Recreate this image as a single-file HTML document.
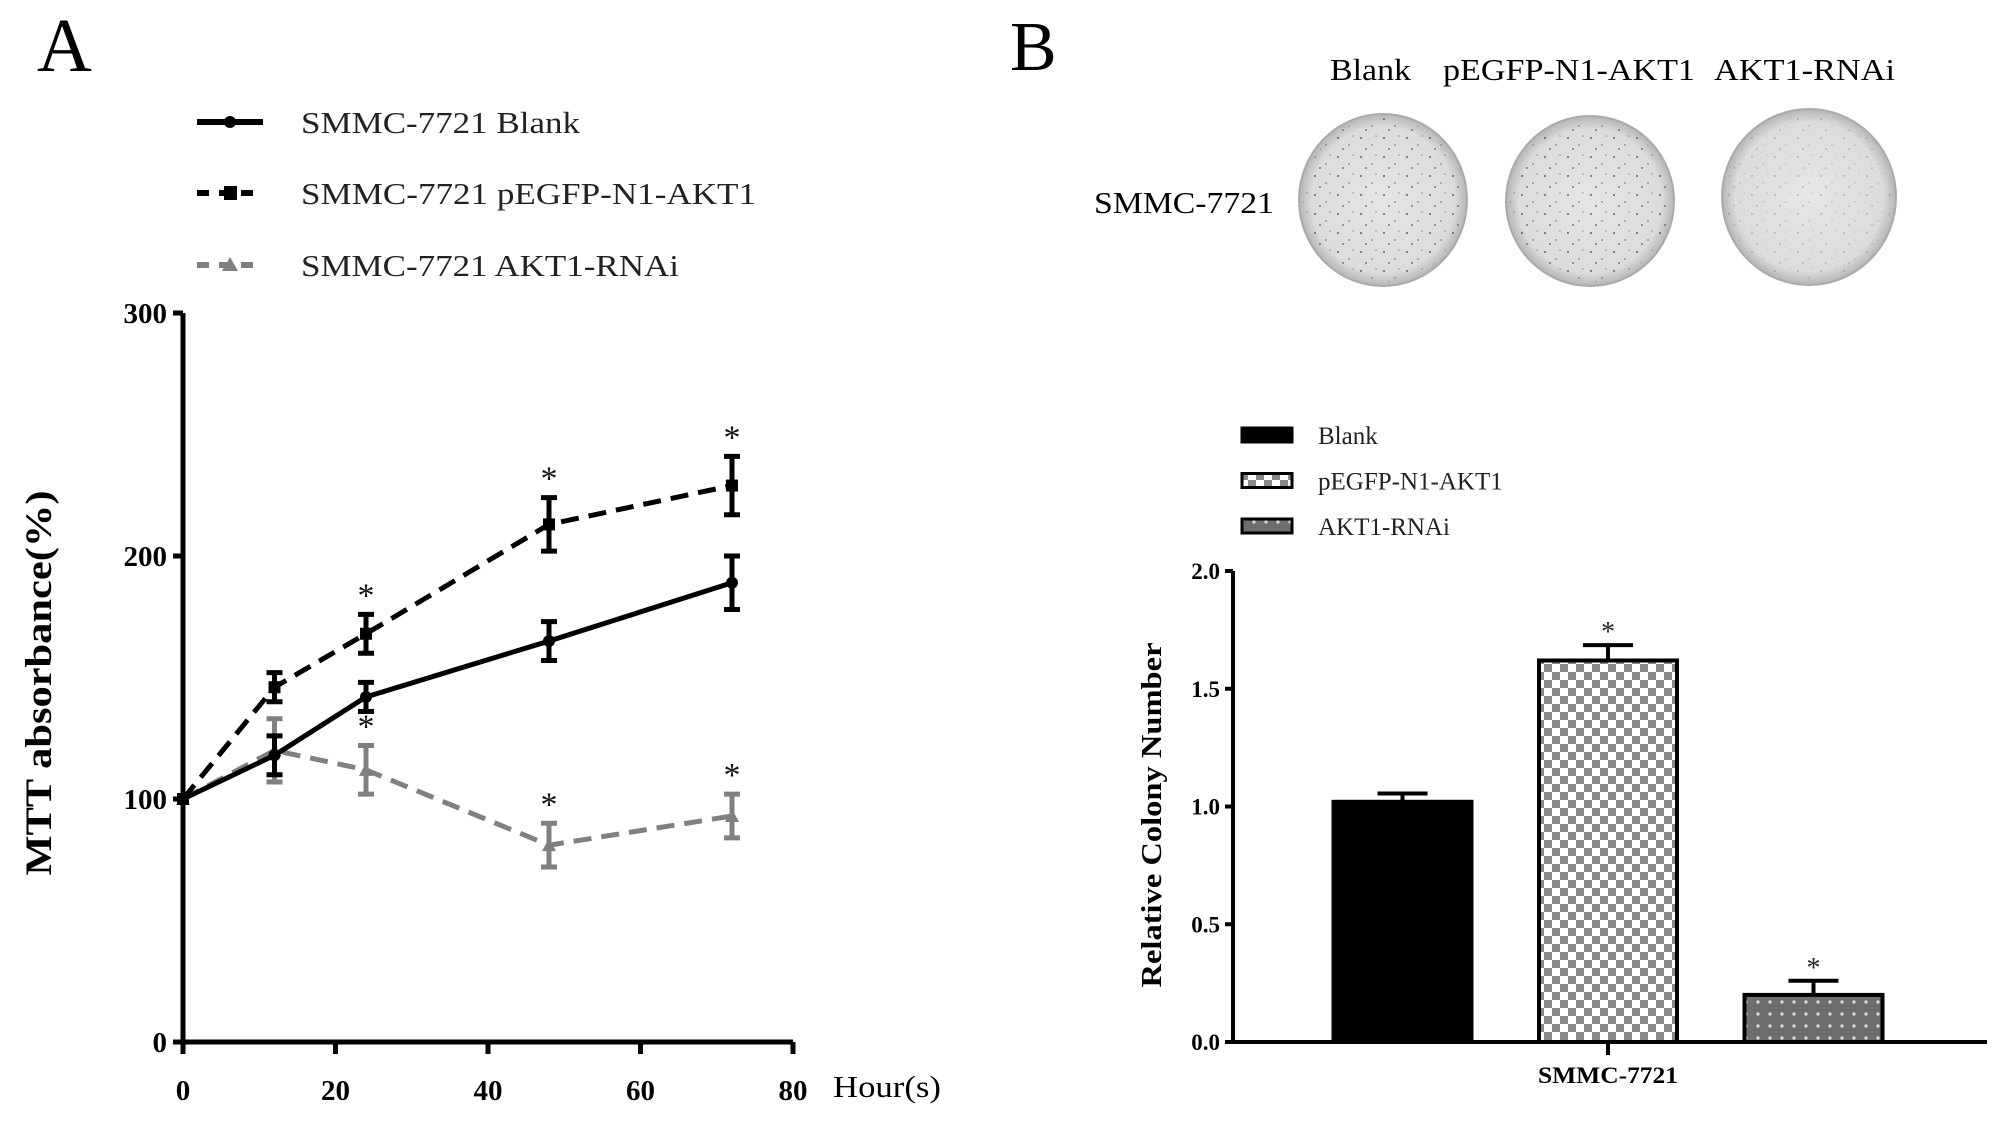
<!DOCTYPE html>
<html><head><meta charset="utf-8"><style>
html,body{margin:0;padding:0;background:#fff;}
svg{display:block;font-family:"Liberation Serif",serif;}
</style></head><body>
<svg id="fig" width="2008" height="1123" viewBox="0 0 2008 1123" xmlns="http://www.w3.org/2000/svg">
<defs>
<pattern id="checker" width="16" height="16" patternUnits="userSpaceOnUse"><rect width="16" height="16" fill="#fff"/><rect width="8" height="8" fill="#8a8a8a"/><rect x="8" y="8" width="8" height="8" fill="#8a8a8a"/></pattern>
<pattern id="dots" width="12" height="12" patternUnits="userSpaceOnUse"><rect width="12" height="12" fill="#6e6e6e"/><circle cx="6" cy="6" r="1.6" fill="#ddd"/></pattern>
<pattern id="speck" width="23" height="19" patternUnits="userSpaceOnUse"><circle cx="4" cy="5" r="1.1" fill="#666"/><circle cx="15" cy="12" r="0.9" fill="#777"/><circle cx="19" cy="3" r="0.8" fill="#888"/><circle cx="9" cy="16" r="1" fill="#6a6a6a"/></pattern>
<radialGradient id="dish" cx="50%" cy="50%" r="50%"><stop offset="0" stop-color="#e6e6e6"/><stop offset="0.85" stop-color="#dcdcdc"/><stop offset="1" stop-color="#b5b5b5"/></radialGradient>
</defs>
<g id="panelA"></g>
<g id="panelB"></g>
</svg>
<script>
// ---- Panel A data ----
const hours = [0, 12, 24, 48, 72];
const blankVals = [100, 118, 142, 165, 189];
const blankErr = [0, 8, 6, 8, 11];
const pegfpVals = [100, 146, 168, 213, 229];
const pegfpErr = [0, 6, 8, 11, 12];
const rnaiVals = [100, 120, 112, 81, 93];
const rnaiErr = [0, 13, 10, 9, 9];
const pegfpStars = [false, false, true, true, true];
const rnaiStars = [false, false, true, true, true];
const yTicksA = [0, 100, 200, 300];
const xTicksA = [0, 20, 40, 60, 80];
// ---- Panel B data ----
const barGroups = ["Blank", "pEGFP-N1-AKT1", "AKT1-RNAi"];
const barVals = [1.02, 1.62, 0.20];
const barErr = [0.035, 0.065, 0.06];
const barStars = [false, true, true];
const yTicksB = [0.0, 0.5, 1.0, 1.5, 2.0];

const NS = "http://www.w3.org/2000/svg";
function mk(parent, tag, attrs, text){
  const e = document.createElementNS(NS, tag);
  for (const k in attrs) e.setAttribute(k, attrs[k]);
  if (text !== undefined) e.textContent = text;
  parent.appendChild(e);
  return e;
}
const A = document.getElementById('panelA');
const B = document.getElementById('panelB');

const xA = v => 183 + (v / 80) * 610;
const yA = v => 1042 - (v / 300) * 729;

let t = mk(A, 'text', {x: 37, y: 71, 'font-size': 76});
t.textContent = 'A';



let ax = mk(A, 'path', {d: `M${xA(0)},${yA(300)} L${xA(0)},${yA(0)} L${xA(80)},${yA(0)}`, fill: 'none', stroke: '#000', 'stroke-width': 5});


yTicksA.forEach(v => {
  const l = mk(A, 'line', {x1: xA(0) - 10, x2: xA(0), y1: yA(v), y2: yA(v), stroke: '#000', 'stroke-width': 5});
  
  
  const tx = mk(A, 'text', {x: xA(0) - 16, y: yA(v) + 10, 'font-size': 29, 'font-weight': 'bold', 'text-anchor': 'end'}, String(v));
  
  
});
xTicksA.forEach(v => {
  const l = mk(A, 'line', {x1: xA(v), x2: xA(v), y1: yA(0), y2: yA(0) + 12, stroke: '#000', 'stroke-width': 5});
  
  
  const tx = mk(A, 'text', {x: xA(v), y: 1100, 'font-size': 29, 'font-weight': 'bold', 'text-anchor': 'middle'}, String(v));
  
  
});
t = mk(A, 'text', {x: 833, y: 1097, 'font-size': 31, textLength: 108, lengthAdjust: 'spacingAndGlyphs'}, 'Hour(s)');


t = mk(A, 'text', {x: 0, y: 0, 'font-size': 37, 'font-weight': 'bold', 'text-anchor': 'middle', transform: 'translate(51,683) rotate(-90)', textLength: 385, lengthAdjust: 'spacingAndGlyphs'}, 'MTT absorbance(%)');



function series(vals, errs, stars, color, dash, marker, name){
  const g = mk(A, 'g', {});
  
  
  const pts = hours.map((h, i) => `${xA(h)},${yA(vals[i])}`).join(' ');
  const pl = mk(g, 'polyline', {points: pts, fill: 'none', stroke: color, 'stroke-width': 5, 'stroke-dasharray': dash});
  
  
  hours.forEach((h, i) => {
    const x = xA(h), y = yA(vals[i]);
    if (errs[i] > 0) {
      const y1 = yA(vals[i] + errs[i]), y2 = yA(vals[i] - errs[i]);
      const e = mk(g, 'path', {d: `M${x},${y1} L${x},${y2} M${x-8},${y1} L${x+8},${y1} M${x-8},${y2} L${x+8},${y2}`, stroke: color, 'stroke-width': 5, fill: 'none'});
      
      
    }
    let m;
    if (marker === 'circle') m = mk(g, 'circle', {cx: x, cy: y, r: 6, fill: color});
    else if (marker === 'square') m = mk(g, 'rect', {x: x - 6, y: y - 6, width: 12, height: 12, fill: color});
    else m = mk(g, 'path', {d: `M${x},${y-7} L${x+7},${y+6} L${x-7},${y+6} Z`, fill: color});
    
    
    if (stars && stars[i]) {
      const s = mk(g, 'text', {x: x, y: yA(vals[i] + errs[i]) - 8, 'font-size': 34, 'text-anchor': 'middle', fill: '#111'}, '*');
      
      
    }
  });
}
series(rnaiVals, rnaiErr, rnaiStars, '#808080', '18 10', 'tri', 'series-akt1-rnai');
series(blankVals, blankErr, null, '#000', '', 'circle', 'series-blank');
series(pegfpVals, pegfpErr, pegfpStars, '#000', '18 10', 'square', 'series-pegfp');

const legA = [
  ['SMMC-7721 Blank', '#000', '', 'circle', 133, 279],
  ['SMMC-7721 pEGFP-N1-AKT1', '#000', '12 10', 'square', 204, 455],
  ['SMMC-7721 AKT1-RNAi', '#808080', '12 10', 'tri', 276, 378]
];
legA.forEach(r => {
  const g = mk(A, 'g', {});
  
  
  const yy = r[4] - 11;
  mk(g, 'line', {x1: 197, x2: 263, y1: yy, y2: yy, stroke: r[1], 'stroke-width': 6, 'stroke-dasharray': r[2]});
  if (r[3] === 'circle') mk(g, 'circle', {cx: 230, cy: yy, r: 6, fill: r[1]});
  else if (r[3] === 'square') mk(g, 'rect', {x: 224, y: yy - 7, width: 13, height: 14, fill: r[1]});
  else mk(g, 'path', {d: `M230,${yy-8} L238,${yy+6} L222,${yy+6} Z`, fill: r[1]});
  mk(g, 'text', {x: 301, y: r[4], 'font-size': 31, textLength: r[5], lengthAdjust: 'spacingAndGlyphs', fill: '#222'}, r[0]);
});

t = mk(B, 'text', {x: 1010, y: 70, 'font-size': 70});
t.textContent = 'B';


const dishLabels = [['Blank', 1330, 81], ['pEGFP-N1-AKT1', 1443, 252], ['AKT1-RNAi', 1714, 181]];
dishLabels.forEach(d => {
  const e = mk(B, 'text', {x: d[1], y: 80, 'font-size': 31, textLength: d[2], lengthAdjust: 'spacingAndGlyphs'}, d[0]);
  
  
});
t = mk(B, 'text', {x: 1094, y: 213, 'font-size': 31, textLength: 180, lengthAdjust: 'spacingAndGlyphs'}, 'SMMC-7721');


const dishes = [[1383, 200, 84, 86, 0.9], [1590, 201, 84, 85, 0.9], [1809, 197, 87, 88, 0.3]];
dishes.forEach(d => {
  const g = mk(B, 'g', {});
  
  
  mk(g, 'ellipse', {cx: d[0], cy: d[1], rx: d[2], ry: d[3], fill: 'url(#dish)', stroke: '#aaa', 'stroke-width': 2});
  mk(g, 'ellipse', {cx: d[0], cy: d[1], rx: d[2] - 4, ry: d[3] - 4, fill: 'url(#speck)', opacity: d[4]});
});

const yB = v => 1042 - v * 235.5;
const xB0 = 1233, xB1 = 1987, groupCenter = 1608, barW = 138, barStep = 205.5;
const fills = ['#000', 'url(#checker)', 'url(#dots)'];
ax = mk(B, 'path', {d: `M${xB0},${yB(2)} L${xB0},${yB(0)} L${xB1},${yB(0)}`, fill: 'none', stroke: '#000', 'stroke-width': 4});


yTicksB.forEach(v => {
  const l = mk(B, 'line', {x1: xB0 - 8, x2: xB0, y1: yB(v), y2: yB(v), stroke: '#000', 'stroke-width': 4});
  
  
  const tx = mk(B, 'text', {x: xB0 - 13, y: yB(v) + 8, 'font-size': 23, 'font-weight': 'bold', 'text-anchor': 'end'}, v.toFixed(1));
  
  
});
let tk = mk(B, 'line', {x1: groupCenter, x2: groupCenter, y1: yB(0), y2: yB(0) + 13, stroke: '#000', 'stroke-width': 4});


t = mk(B, 'text', {x: groupCenter, y: 1083, 'font-size': 23, 'font-weight': 'bold', 'text-anchor': 'middle', textLength: 140, lengthAdjust: 'spacingAndGlyphs'}, 'SMMC-7721');


t = mk(B, 'text', {x: 0, y: 0, 'font-size': 29, 'font-weight': 'bold', 'text-anchor': 'middle', transform: 'translate(1161,815) rotate(-90)', textLength: 345, lengthAdjust: 'spacingAndGlyphs'}, 'Relative Colony Number');


barVals.forEach((v, i) => {
  const cx = groupCenter + (i - 1) * barStep;
  const g = mk(B, 'g', {});
  
  
  const ye = yB(v + barErr[i]);
  mk(g, 'path', {d: `M${cx},${yB(v)} L${cx},${ye} M${cx-25},${ye} L${cx+25},${ye}`, stroke: '#000', 'stroke-width': 4, fill: 'none'});
  mk(g, 'rect', {x: cx - barW / 2, y: yB(v), width: barW, height: yB(0) - yB(v), fill: fills[i], stroke: '#000', 'stroke-width': 4});
  if (barStars[i]) mk(g, 'text', {x: cx, y: ye - 4, 'font-size': 28, 'text-anchor': 'middle', fill: '#222'}, '*');
});
barGroups.forEach((name, i) => {
  const g = mk(B, 'g', {});
  
  
  const yy = 435 + i * 45.5;
  mk(g, 'rect', {x: 1242, y: yy - 7, width: 50, height: 14, fill: fills[i], stroke: '#000', 'stroke-width': 3});
  mk(g, 'text', {x: 1318, y: yy + 9, 'font-size': 25, fill: '#222'}, name);
});
</script>
</body></html>
